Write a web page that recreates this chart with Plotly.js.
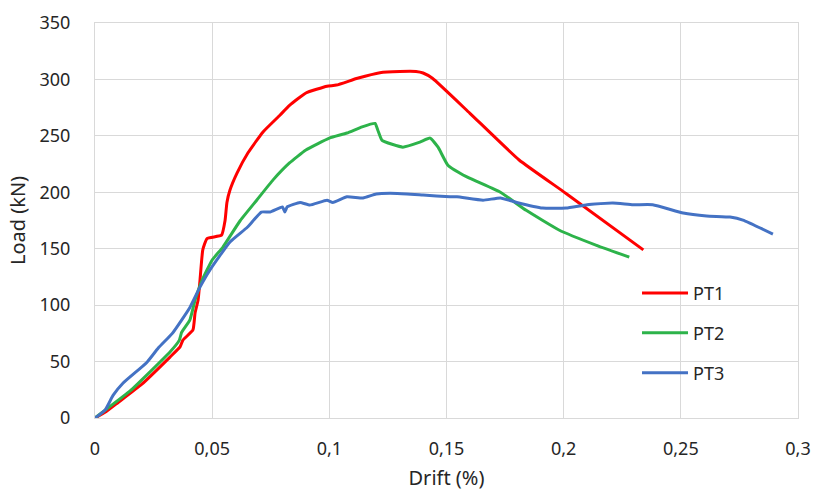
<!DOCTYPE html>
<html>
<head>
<meta charset="utf-8">
<script src="https://cdn.plot.ly/plotly-3.0.1.min.js"></script>
<style>html,body{margin:0;padding:0;background:#fff;}#chart{width:816px;height:491px;}</style>
</head>
<body>
<div id="chart"></div>
<script>
// PT1 (red)
const pt1Drift = [0,0.0043,0.01,0.02,0.032,0.0363,0.0375,0.0418,0.0427,0.044,0.0448,0.046,0.0478,0.054,0.0555,0.0563,0.0576,0.0606,0.0653,0.0717,0.079,0.083,0.090,0.099,0.103,0.112,0.1216,0.130,0.137,0.140,0.144,0.160,0.181,0.201,0.234];
const pt1Load  = [0,5,14,30,54,63,69,78,93,104.5,122,149,159,162,175,191,202,217,235,253.5,268.5,277,288,294,295,301,306,307,307,305.7,301,270,228.6,199,149];
// PT2 (green)
const pt2Drift = [0,0.005,0.015,0.032,0.036,0.037,0.0405,0.0427,0.0457,0.050,0.0546,0.062,0.069,0.076,0.083,0.090,0.100,0.1075,0.114,0.1195,0.1207,0.1225,0.1314,0.1387,0.143,0.1464,0.1506,0.1587,0.173,0.184,0.198,0.214,0.228];
const pt2Load  = [0,8,24,58.5,69,76,87,104.5,122,140,151.5,175,193,211,226,237.5,248,252.5,258,261,255,246,240,244.5,248,240,224,213.6,200,184,166.6,153,142.6];
// PT3 (blue)
const pt3Drift = [0,0.0043,0.0077,0.012,0.022,0.027,0.033,0.0405,0.0448,0.049,0.0576,0.065,0.071,0.0747,0.080,0.081,0.082,0.0875,0.0917,0.099,0.1015,0.1075,0.1144,0.120,0.129,0.140,0.1515,0.1545,0.1656,0.173,0.180,0.191,0.201,0.210,0.221,0.2296,0.238,0.251,0.261,0.271,0.2765,0.2893];
const pt3Load  = [0,7,20,31,49,62,75,98,116,131,156,169,182.5,182.5,187,182.5,187,191,188.7,193,191,196,195,198.5,199,197.6,196,196,193,195,191,186,186,189,190.5,189,189,181.6,179,178,175.4,163];

const seriesNames = ['PT1','PT2','PT3'];
const xTickVals = [0,0.05,0.1,0.15,0.2,0.25,0.3];
const xTickText = ['0','0,05','0,1','0,15','0,2','0,25','0,3'];
const yTickVals = [0,50,100,150,200,250,300,350];

const FONT = 'Noto Sans, Open Sans, DejaVu Sans, sans-serif';
const TXT = '#262626';
const GRID = '#d9d9d9';

const traces = [
  {x: pt1Drift, y: pt1Load, name: seriesNames[0], legend: 'legend', line: {color: '#ff0000', width: 3, shape: 'spline', smoothing: 0.4}},
  {x: pt2Drift, y: pt2Load, name: seriesNames[1], legend: 'legend2', line: {color: '#2db34a', width: 3, shape: 'spline', smoothing: 0.4}},
  {x: pt3Drift, y: pt3Load, name: seriesNames[2], legend: 'legend3', line: {color: '#4472c4', width: 3, shape: 'spline', smoothing: 0.4}}
].map(t => Object.assign({type: 'scatter', mode: 'lines', hoverinfo: 'none'}, t));

function leg(y) {
  return {x: 0.771, y: y, xanchor: 'left', yanchor: 'middle', bgcolor: 'rgba(0,0,0,0)',
          font: {family: FONT, size: 18, color: TXT}, itemwidth: 46};
}

const layout = {
  width: 816, height: 491,
  margin: {l: 95, r: 18, t: 23, b: 73},
  paper_bgcolor: '#fff', plot_bgcolor: '#fff',
  showlegend: true,
  legend: leg(0.316), legend2: leg(0.215), legend3: leg(0.114),
  xaxis: {
    range: [0, 0.3], tickvals: xTickVals, ticktext: xTickText,
    showgrid: true, gridcolor: GRID, gridwidth: 1, zeroline: false,
    showline: true, linecolor: GRID, mirror: true, ticks: '',
    ticklabelstandoff: 14,
    tickfont: {family: FONT, size: 18, color: TXT},
    title: {text: 'Drift (%)', font: {family: FONT, size: 20, color: TXT}, standoff: 13}
  },
  yaxis: {
    range: [0, 350], tickvals: yTickVals,
    showgrid: true, gridcolor: GRID, gridwidth: 1, zeroline: false,
    showline: true, linecolor: GRID, mirror: true, ticks: '',
    ticklabelstandoff: 20,
    tickfont: {family: FONT, size: 18, color: TXT},
    title: {text: 'Load (kN)', font: {family: FONT, size: 20, color: TXT}, standoff: 8}
  }
};

Plotly.newPlot('chart', traces, layout, {staticPlot: true, displayModeBar: false});
</script>
</body>
</html>
